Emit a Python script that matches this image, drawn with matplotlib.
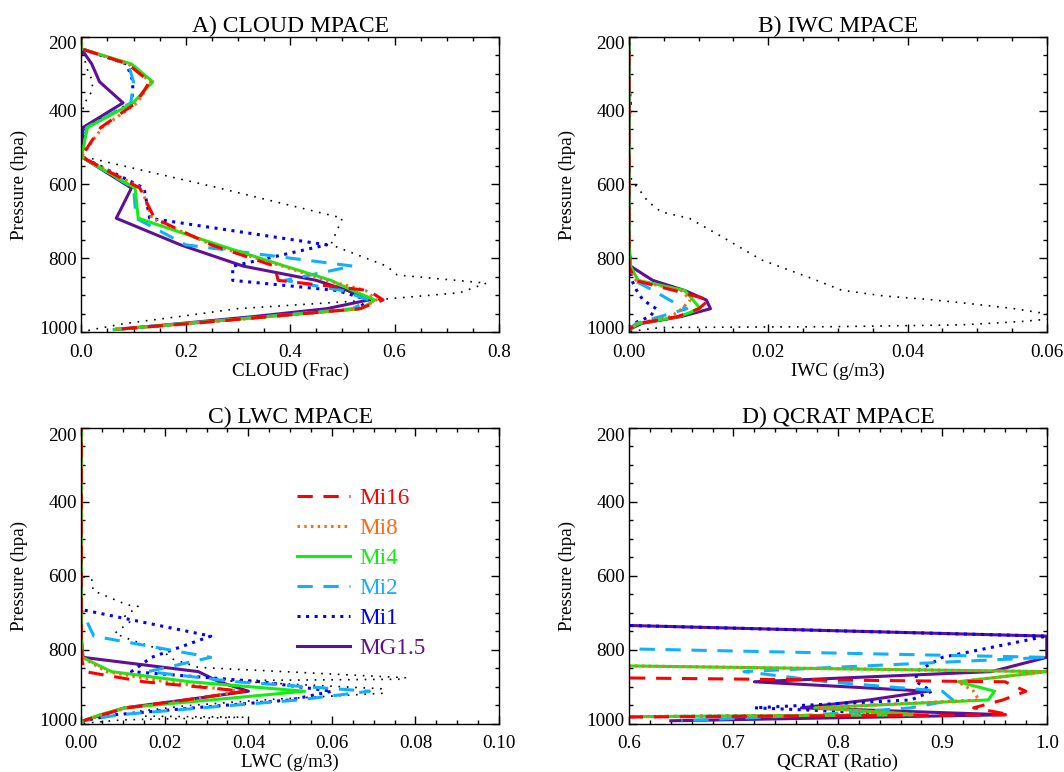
import matplotlib
matplotlib.use('Agg')
import matplotlib.pyplot as plt
from matplotlib.ticker import MultipleLocator, FormatStrFormatter
from matplotlib.transforms import ScaledTranslation

plt.rcParams['font.family'] = ['Liberation Serif', 'DejaVu Serif']

# model mid-levels (hPa)
lev = [168.2, 197.9, 232.8, 273.9, 322.2, 379.1, 446.0, 524.7, 609.8, 691.4,
       763.4, 820.9, 859.5, 887.0, 912.6, 936.2, 957.5, 976.3, 992.6]

# A) cloud fraction
cloud_mi16 = [0, 0, 0, 0.089, 0.131, 0.105, 0.037, 0, 0.112, 0.140, 0.249, 0.370, 0.377, 0.550, 0.578, 0.533, 0.360, 0.210, 0.060]
cloud_mi8 = [0, 0, 0, 0.090, 0.133, 0.107, 0.040, 0, 0.115, 0.135, 0.250, 0.385, 0.470, 0.545, 0.565, 0.535, 0.360, 0.210, 0.060]
cloud_mi4 = [0, 0, 0, 0.096, 0.137, 0.099, 0.012, 0, 0.103, 0.109, 0.262, 0.390, 0.478, 0.520, 0.562, 0.536, 0.360, 0.200, 0.065]
cloud_mi2 = [0, 0, 0, 0.090, 0.100, 0.095, 0.010, 0, 0.100, 0.105, 0.200, 0.520, 0.390, 0.500, 0.550, 0.520, 0.350, 0.200, 0.060]
cloud_mi1 = [0, 0, 0, 0.087, 0.099, 0.097, 0.010, 0, 0.120, 0.131, 0.470, 0.290, 0.290, 0.490, 0.550, 0.530, 0.360, 0.200, 0.060]
cloud_mg = [0, 0, 0, 0.020, 0.035, 0.080, 0.003, 0, 0.096, 0.067, 0.190, 0.310, 0.450, 0.510, 0.550, 0.470, 0.330, 0.190, 0.065]
cloud_obs_p = [200, 233, 260, 290, 322, 349, 367, 407, 500, 525, 610, 691, 763, 821, 845, 867, 893, 912, 936, 957, 976, 993, 1000]
cloud_obs = [0, 0, 0.006, 0.012, 0.022, 0.020, 0.011, 0, 0, 0.005, 0.265, 0.500, 0.478, 0.585, 0.605, 0.776, 0.725, 0.566, 0.300, 0.190, 0.085, 0.020, 0]

# B) ice water content (g/m3)
iwc_mi16 = [0, 0, 0, 0, 0, 0, 0, 0, 0, 0, 0, 0, 0.0008, 0.0065, 0.0115, 0.0100, 0.0070, 0.0013, 0]
iwc_mi8 = [0, 0, 0, 0, 0, 0, 0, 0, 0, 0, 0, 0, 0.0010, 0.0075, 0.0088, 0.0076, 0.0060, 0.0012, 0]
iwc_mi4 = [0, 0, 0, 0, 0, 0, 0, 0, 0, 0, 0, 0.0002, 0.0013, 0.0080, 0.0092, 0.0102, 0.0072, 0.0014, 0]
iwc_mi2 = [0, 0, 0, 0, 0, 0, 0, 0, 0, 0, 0, 0, 0.0007, 0.0035, 0.0058, 0.0083, 0.0045, 0.0010, 0]
iwc_mi1 = [0, 0, 0, 0, 0, 0.0002, 0, 0, 0, 0, 0, 0.0002, 0.0004, 0.0011, 0.0020, 0.0039, 0.0030, 0.0006, 0]
iwc_mg = [0, 0, 0, 0, 0, 0, 0, 0, 0, 0, 0, 0.0002, 0.0034, 0.0080, 0.0111, 0.0117, 0.0075, 0.0018, 0]
iwc_obs_p = [200, 560, 590, 615, 646, 674, 692, 741, 804, 854, 886, 902, 911, 920, 935, 949, 960, 971, 980, 985, 987, 998]
iwc_obs = [0, 0, 0.0004, 0.0015, 0.0027, 0.0046, 0.0087, 0.0133, 0.0190, 0.0262, 0.0305, 0.0367, 0.0429, 0.0477, 0.0549, 0.0597, 0.0630, 0.0563, 0.0477, 0.0286, 0.0046, 0.0001]

# C) liquid water content (g/m3)
lwc_mi16 = [0, 0, 0, 0, 0, 0, 0, 0, 0, 0, 0, 0, 0.0008, 0.015, 0.039, 0.025, 0.011, 0.005, 0.0005]
lwc_mi8 = [0, 0, 0, 0, 0, 0, 0, 0, 0, 0, 0, 0.0002, 0.006, 0.020, 0.038, 0.026, 0.011, 0.005, 0.0005]
lwc_mi4 = [0, 0, 0, 0, 0, 0, 0, 0, 0, 0, 0, 0.0002, 0.0072, 0.026, 0.0535, 0.031, 0.0104, 0.0045, 0.0005]
lwc_mi2 = [0, 0, 0, 0, 0, 0, 0, 0, 0, 0, 0.003, 0.031, 0.016, 0.037, 0.069, 0.052, 0.029, 0.009, 0.0005]
lwc_mi1 = [0, 0, 0, 0, 0, 0, 0, 0, 0, 0, 0.031, 0.0168, 0.012, 0.043, 0.060, 0.050, 0.027, 0.008, 0.0005]
lwc_mg = [0, 0, 0, 0, 0, 0, 0, 0, 0, 0, 0, 0.0004, 0.028, 0.033, 0.040, 0.0248, 0.0104, 0.005, 0.0005]
lwc_obs_p = [200, 600, 612, 640, 679, 683, 710, 725, 756, 774, 800, 826, 848, 876, 880, 884, 906, 918, 935, 952, 968, 980, 983, 990, 1000]
lwc_obs = [0, 0, 0.0026, 0.0028, 0.011, 0.0136, 0.0104, 0.0116, 0.008, 0.012, 0.019, 0.022, 0.028, 0.0776, 0.0776, 0.034, 0.072, 0.0725, 0.045, 0.025, 0.013, 0.015, 0.039, 0.010, 0]

# D) liquid ratio
qc_mi16 = [0, 0, 0, 0, 0, 0, 0, 0, 0, 0, 0, 0, 0, 0.960, 0.980, 0.958, 0.930, 0.965, 0]
qc_mi8 = [0, 0, 0, 0, 0, 0, 0, 0, 0, 0, 0, 0, 1.0, 0.915, 0.930, 0.935, 0.780, 0.880, 0]
qc_mi4 = [0, 0, 0, 0, 0, 0, 0, 0, 0, 0, 0, 0, 1.0, 0.915, 0.950, 0.944, 0.778, 0.880, 0]
qc_mi2 = [0, 0, 0, 0, 0, 0, 0, 0, 0, 0, 0, 1.0, 0.710, 0.790, 0.900, 0.910, 0.870, 0.780, 0.650]
qc_mi1 = [0, 0, 0, 0, 0, 0, 0, 0, 0, 0, 1.0, 0.900, 0.875, 0.875, 0.890, 0.870, 0.720, 0.880, 0]
qc_mg = [0, 0, 0, 0, 0, 0, 0, 0, 0, 0, 1.0, 1.0, 0.947, 0.720, 0.886, 0.830, 0.765, 0.960, 0.640]

names = ['Mi16', 'Mi8', 'Mi4', 'Mi2', 'Mi1', 'MG1.5']
colors = ['#FF0000', '#FF6A10', '#11EE11', '#10B0FF', '#0000FF', '#5F1094']
styles = [(0, (5, 3.5)), (0, (0.8, 1.4)), '-', (0, (5, 3.5)), (0, (1, 1.8)), '-']

fig = plt.figure(figsize=(10.64, 7.72), dpi=100)
axA = fig.add_axes([0.0764, 0.5696, 0.3926, 0.3829])
axB = fig.add_axes([0.5912, 0.5696, 0.3926, 0.3829])
axC = fig.add_axes([0.0764, 0.0628, 0.3926, 0.3828])
axD = fig.add_axes([0.5912, 0.0628, 0.3926, 0.3828])


def draw(ax, series, obs_p, obs, title, xlabel, xlim, xmaj, xmin, fmt):
    if obs is not None:
        ax.plot(obs, obs_p, color='black', lw=1.2, ls=(0, (1, 4)))
    # draw MG1.5 first so the Mi runs sit on top, red last
    for i in [5, 4, 3, 2, 1, 0]:
        ax.plot(series[i], lev, color=colors[i], lw=2.2, ls=styles[i], label=names[i])
    ax.set_xlim(*xlim)
    ax.set_ylim(1000, 200)
    ax.xaxis.set_major_locator(MultipleLocator(xmaj))
    ax.xaxis.set_minor_locator(MultipleLocator(xmin))
    ax.xaxis.set_major_formatter(FormatStrFormatter(fmt))
    ax.yaxis.set_major_locator(MultipleLocator(200))
    ax.yaxis.set_minor_locator(MultipleLocator(50))
    ax.tick_params(which='both', direction='in', top=True, right=True, width=1, labelsize=13.8)
    ax.tick_params(which='major', length=6)
    ax.tick_params(which='minor', length=3)
    ax.tick_params(axis='x', pad=8.5)
    ax.tick_params(axis='y', pad=3)
    for s in ax.spines.values():
        s.set_linewidth(1.0)
    ax.set_title(title, fontsize=17, pad=2)
    ax.set_xlabel(xlabel, fontsize=13.8, labelpad=1)
    ax.set_ylabel('Pressure (hpa)', fontsize=13.8, labelpad=8)


draw(axA, [cloud_mi16, cloud_mi8, cloud_mi4, cloud_mi2, cloud_mi1, cloud_mg],
     cloud_obs_p, cloud_obs, 'A) CLOUD MPACE', 'CLOUD (Frac)', (0, 0.8), 0.2, 0.05, '%.1f')
draw(axB, [iwc_mi16, iwc_mi8, iwc_mi4, iwc_mi2, iwc_mi1, iwc_mg],
     iwc_obs_p, iwc_obs, 'B) IWC MPACE', 'IWC (g/m3)', (0, 0.06), 0.02, 0.005, '%.2f')
draw(axC, [lwc_mi16, lwc_mi8, lwc_mi4, lwc_mi2, lwc_mi1, lwc_mg],
     lwc_obs_p, lwc_obs, 'C) LWC MPACE', 'LWC (g/m3)', (0, 0.10), 0.02, 0.005, '%.2f')
draw(axD, [qc_mi16, qc_mi8, qc_mi4, qc_mi2, qc_mi1, qc_mg],
     None, None, 'D) QCRAT MPACE', 'QCRAT (Ratio)', (0.6, 1.0), 0.1, 0.02, '%.1f')

handles, labels = axC.get_legend_handles_labels()
order = [labels.index(n) for n in names]
axC.legend([handles[i] for i in order], [labels[i] for i in order],
           loc='upper left', bbox_to_anchor=(0.516, 0.797), frameon=False,
           fontsize=16.7, handlelength=2.3, handletextpad=0.4, labelspacing=0.38,
           borderpad=0, borderaxespad=0, labelcolor='linecolor')

# the end labels of the pressure axis sit a little inside the frame
fig.canvas.draw()
for ax in [axA, axB, axC, axD]:
    for tick in ax.yaxis.get_major_ticks():
        if abs(tick.get_loc() - 200) < 1:
            tick.label1.set_transform(tick.label1.get_transform()
                                      + ScaledTranslation(0, -4.5 / 72, fig.dpi_scale_trans))
        elif abs(tick.get_loc() - 1000) < 1:
            tick.label1.set_transform(tick.label1.get_transform()
                                      + ScaledTranslation(0, 3.2 / 72, fig.dpi_scale_trans))

fig.savefig('out.png', dpi=100)
